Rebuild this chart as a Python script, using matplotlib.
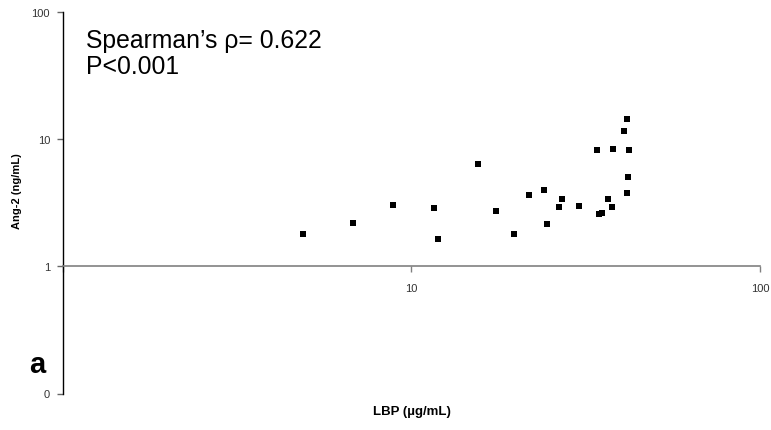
import matplotlib
matplotlib.use("Agg")
import matplotlib.pyplot as plt
from matplotlib.ticker import FixedLocator, NullLocator

plt.rcParams['font.family'] = ['Liberation Sans', 'DejaVu Sans']

lbp = [4.89, 6.81, 8.84, 11.64, 11.90, 15.53, 17.52, 19.73, 21.78, 24.05,
       24.53, 26.50, 27.08, 30.24, 34.19, 34.64, 35.27, 36.76, 37.60, 38.00,
       40.77, 41.51, 41.58, 41.94, 42.14]
ang2 = [1.81, 2.20, 3.04, 2.85, 1.65, 6.41, 2.70, 1.78, 3.62, 4.01,
        2.14, 2.91, 3.41, 3.00, 8.25, 2.57, 2.63, 3.41, 2.95, 8.40,
        11.61, 14.42, 3.75, 5.07, 8.25]

x_ticks = [1, 10, 100]
x_tick_labels = ["", "10", "100"]
y_ticks = [0.1, 1, 10, 100]
y_tick_labels = ["0", "1", "10", "100"]

W, H = 771, 431
fig = plt.figure(figsize=(W / 100, H / 100), dpi=100)
left, right, top, bottom = 62.5, 760, 13, 394.5
ax = fig.add_axes([left / W, (H - bottom) / H, (right - left) / W, (bottom - top) / H])

ax.set_xscale('log')
ax.set_yscale('log')
ax.set_xlim(1, 100)
ax.set_ylim(0.1, 100)

ax.plot(lbp, ang2, linestyle='none', marker='s', markersize=5,
        color='black', markeredgewidth=0)

for s in ['top', 'right']:
    ax.spines[s].set_visible(False)
ax.spines['bottom'].set_position(('data', 1))
ax.spines['bottom'].set_color('#808080')
ax.spines['bottom'].set_linewidth(1.2)
ax.spines['left'].set_color('black')
ax.spines['left'].set_linewidth(1.0)

ax.xaxis.set_major_locator(FixedLocator(x_ticks))
ax.xaxis.set_minor_locator(NullLocator())
ax.set_xticklabels(x_tick_labels)
ax.yaxis.set_major_locator(FixedLocator(y_ticks))
ax.yaxis.set_minor_locator(NullLocator())
ax.set_yticklabels(y_tick_labels)

ax.tick_params(axis='x', direction='out', length=4, width=1, color='#808080',
               labelsize=8, labelcolor='#333333', pad=8)
ax.tick_params(axis='y', direction='out', length=4, width=1, color='#666666',
               labelsize=8, labelcolor='#333333', pad=5)

fig.text(412 / W, 1 - 412 / H, "LBP (µg/mL)", fontsize=9.5, fontweight='bold',
         ha='center', va='center')
fig.text(17 / W, 1 - 191 / H, "Ang-2 (ng/mL)", fontsize=8, fontweight='bold',
         ha='center', va='center', rotation=90)

fig.text(86 / W, 1 - 47.7 / H, "Spearman\u2019s \u03c1= 0.622", fontsize=17.8,
         ha='left', va='baseline')
fig.text(86 / W, 1 - 74.3 / H, "P<0.001", fontsize=17.8, ha='left', va='baseline')
fig.text(29 / W, 1 - 372.7 / H, "a", fontsize=21, fontweight='bold',
         ha='left', va='baseline')

fig.savefig("out.png", dpi=100)
